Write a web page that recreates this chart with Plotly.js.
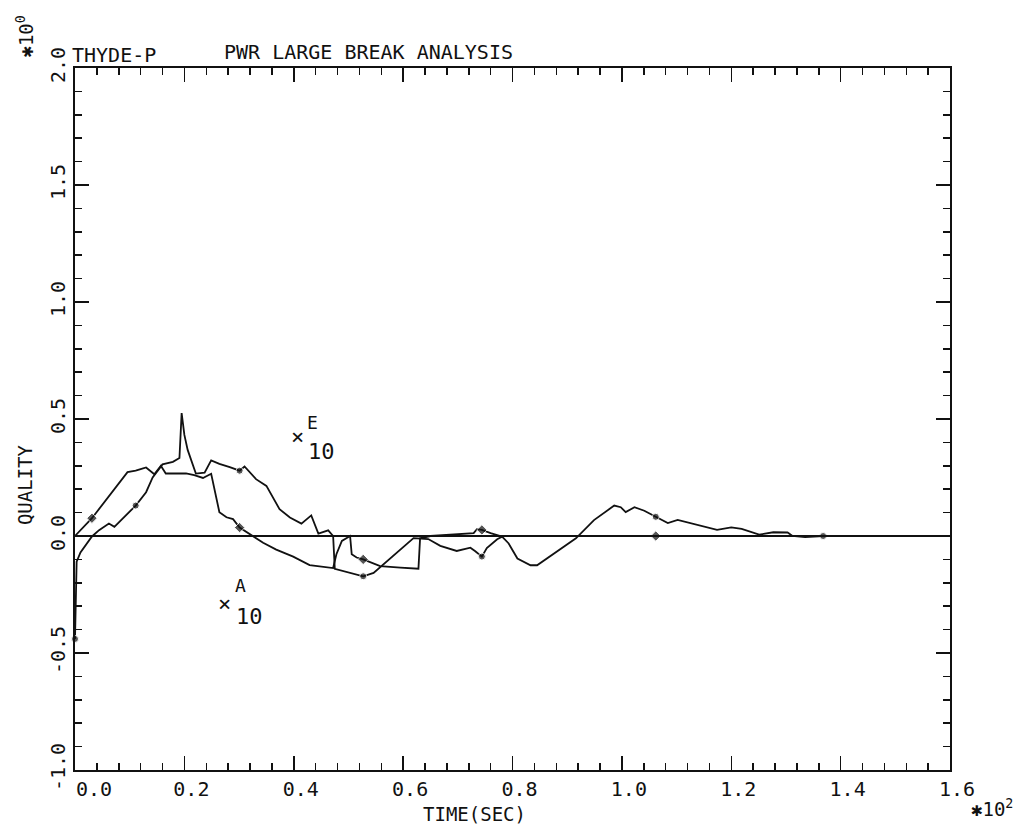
<!DOCTYPE html>
<html>
<head>
<meta charset="utf-8">
<script src="https://cdn.plot.ly/plotly-3.0.1.min.js"></script>
<style>
  html, body { margin: 0; padding: 0; background: #ffffff; }
  #chart { width: 1025px; height: 830px; }
</style>
</head>
<body>
<div id="chart"></div>
<script>
// ---- Data (time in units of 10^2 s, quality) ----
const E10_time = [0.000, 0.003, 0.010, 0.020, 0.031, 0.044, 0.062, 0.072, 0.081, 0.095,
  0.111, 0.130, 0.142, 0.160, 0.179, 0.191, 0.195, 0.200, 0.206, 0.221,
  0.237, 0.249, 0.264, 0.283, 0.301, 0.310, 0.331, 0.350, 0.374, 0.393,
  0.414, 0.432, 0.445, 0.463, 0.472, 0.475, 0.478, 0.503, 0.527, 0.546,
  0.564, 0.594, 0.619, 0.646, 0.668, 0.698, 0.723, 0.732, 0.744, 0.753,
  0.772, 0.781, 0.793, 0.809, 0.833, 0.845, 0.876, 0.916, 0.949, 0.986,
  0.998, 1.007, 1.023, 1.041, 1.062, 1.084, 1.102, 1.145, 1.174, 1.200,
  1.219, 1.251, 1.277, 1.303, 1.312, 1.335, 1.368, 1.600];
const E10_quality = [-0.44, -0.11, -0.07, -0.035, -0.002, 0.025, 0.053, 0.039, 0.060, 0.090,
  0.130, 0.187, 0.250, 0.306, 0.317, 0.333, 0.525, 0.432, 0.368, 0.267,
  0.271, 0.323, 0.308, 0.294, 0.279, 0.297, 0.243, 0.214, 0.115, 0.079,
  0.053, 0.088, 0.010, 0.024, 0.000, -0.140, -0.142, -0.157, -0.172, -0.158,
  -0.122, -0.058, -0.009, -0.013, -0.042, -0.064, -0.050, -0.065, -0.088, -0.052,
  -0.014, -0.003, -0.032, -0.096, -0.125, -0.125, -0.075, -0.010, 0.068, 0.130,
  0.123, 0.102, 0.123, 0.108, 0.082, 0.055, 0.069, 0.045, 0.026, 0.037,
  0.030, 0.006, 0.016, 0.015, 0.000, -0.005, 0.000, 0.000];
const E10_markerTimes = [0.000, 0.111, 0.301, 0.527, 0.744, 1.062, 1.368];

const A10_time = [0.000, 0.031, 0.096, 0.111, 0.120, 0.130, 0.145, 0.157, 0.166, 0.185,
  0.203, 0.218, 0.234, 0.249, 0.264, 0.277, 0.289, 0.301, 0.325, 0.344,
  0.368, 0.399, 0.429, 0.472, 0.478, 0.488, 0.500, 0.503, 0.506, 0.515,
  0.527, 0.558, 0.595, 0.628, 0.631, 0.650, 0.729, 0.735, 0.744, 0.760,
  0.778, 1.062, 1.600];
const A10_quality = [0.000, 0.076, 0.273, 0.279, 0.286, 0.293, 0.264, 0.300, 0.267, 0.268,
  0.268, 0.260, 0.248, 0.266, 0.102, 0.080, 0.072, 0.036, 0.000, -0.029,
  -0.058, -0.088, -0.124, -0.137, -0.078, -0.021, -0.004, 0.000, -0.078, -0.092,
  -0.100, -0.129, -0.135, -0.140, -0.010, 0.000, 0.012, 0.029, 0.026, 0.012,
  0.000, 0.000, 0.000];
const A10_markerTimes = [0.031, 0.301, 0.527, 0.744, 1.062];

const Z_time = [0.000, 0.500, 1.000, 1.600];
const Z_quality = [0.000, 0.000, 0.000, 0.000];
const Z_markerTimes = [1.368];

const xTickVals = [0.0, 0.2, 0.4, 0.6, 0.8, 1.0, 1.2, 1.4, 1.6];
const xTickText = ["\u00a0\u00a00.0", "0.2", "0.4", "0.6", "0.8", "1.0", "1.2", "1.4", "1.6"];
const yTickVals = [-1.0, -0.5, 0.0, 0.5, 1.0, 1.5, 2.0];
const yTickText = ["-1.0", "-0.5", "0.0", "0.5", "1.0", "1.5", "2.0"];

// ---- Build traces ----
function sizes(times, marks, s) {
  return times.map(t => marks.some(m => Math.abs(m - t) < 1e-9) ? s : 0);
}
const FONT = "DejaVu Sans Mono, Liberation Mono, monospace";
const lineStyle = {color: "#111111", width: 1.8};

const traces = [
  {x: E10_time, y: E10_quality, mode: "lines+markers", name: "E10", cliponaxis: false,
   line: lineStyle, marker: {symbol: "circle", color: "#111111", size: sizes(E10_time, E10_markerTimes, 7)}},
  {x: A10_time, y: A10_quality, mode: "lines+markers", name: "A10", cliponaxis: false,
   line: lineStyle, marker: {symbol: "diamond", color: "#111111", size: sizes(A10_time, A10_markerTimes, 8)}},
  {x: Z_time, y: Z_quality, mode: "lines+markers", name: "ref", cliponaxis: false,
   line: lineStyle, marker: {symbol: "diamond", color: "#111111", size: sizes(Z_time, Z_markerTimes, 8)}}
];

const axisCommon = {
  showline: true, linecolor: "#111111", linewidth: 2, mirror: "allticks",
  ticks: "inside", tickcolor: "#111111", tickwidth: 1.5, ticklen: 14,
  showgrid: false, zeroline: false, tickmode: "array",
  tickfont: {family: FONT, size: 20, color: "#111111"}
};

const layout = {
  width: 1025, height: 830,
  margin: {l: 75, r: 75, t: 68, b: 60},
  paper_bgcolor: "#ffffff", plot_bgcolor: "#ffffff",
  showlegend: false,
  font: {family: FONT, color: "#111111"},
  xaxis: Object.assign({}, axisCommon, {
    range: [0, 1.6], tickvals: xTickVals, ticktext: xTickText,
    ticklabelstandoff: 0, ticklabelshift: 7,
    minor: {dtick: 0.04, tick0: 0, ticks: "inside", ticklen: 7, tickwidth: 1.5, tickcolor: "#111111"}
  }),
  yaxis: Object.assign({}, axisCommon, {
    range: [-1, 2], tickvals: yTickVals, ticktext: yTickText, tickangle: -90,
    ticklabelstandoff: 0,
    minor: {dtick: 0.1, tick0: 0, ticks: "inside", ticklen: 7, tickwidth: 1.5, tickcolor: "#111111"}
  }),
  annotations: [
    {text: "THYDE-P", xref: "paper", yref: "paper", x: -0.006, y: 1.019, xanchor: "left", yanchor: "middle",
     showarrow: false, font: {family: FONT, size: 20}},
    {text: "PWR LARGE BREAK ANALYSIS", xref: "paper", yref: "paper", x: 0.168, y: 1.023, xanchor: "left", yanchor: "middle",
     showarrow: false, font: {family: FONT, size: 20}},
    {text: "QUALITY", xref: "paper", yref: "paper", x: -0.057, y: 0.406, textangle: -90,
     xanchor: "center", yanchor: "middle", showarrow: false, font: {family: FONT, size: 19}},
    {text: "TIME(SEC)", xref: "paper", yref: "paper", x: 0.457, y: -0.063,
     xanchor: "center", yanchor: "middle", showarrow: false, font: {family: FONT, size: 19}},
    {text: "✱10<sup>0</sup>", xref: "paper", yref: "paper", x: -0.057, y: 1.045, textangle: -90,
     xanchor: "center", yanchor: "middle", showarrow: false, font: {family: FONT, size: 19}},
    {text: "✱10<sup>2</sup>", xref: "paper", yref: "paper", x: 1.048, y: -0.054,
     xanchor: "center", yanchor: "middle", showarrow: false, font: {family: FONT, size: 19}},
    {text: "×", x: 0.407, y: 0.424, xref: "x", yref: "y", showarrow: false, font: {family: FONT, size: 22}},
    {text: "E", x: 0.435, y: 0.487, xref: "x", yref: "y", showarrow: false, font: {family: FONT, size: 18}},
    {text: "10", x: 0.450, y: 0.362, xref: "x", yref: "y", showarrow: false, font: {family: FONT, size: 22}},
    {text: "×", x: 0.273, y: -0.288, xref: "x", yref: "y", showarrow: false, font: {family: FONT, size: 22}},
    {text: "A", x: 0.303, y: -0.213, xref: "x", yref: "y", showarrow: false, font: {family: FONT, size: 18}},
    {text: "10", x: 0.319, y: -0.342, xref: "x", yref: "y", showarrow: false, font: {family: FONT, size: 22}}
  ]
};

Plotly.newPlot("chart", traces, layout, {displayModeBar: false, staticPlot: true});
</script>
</body>
</html>
